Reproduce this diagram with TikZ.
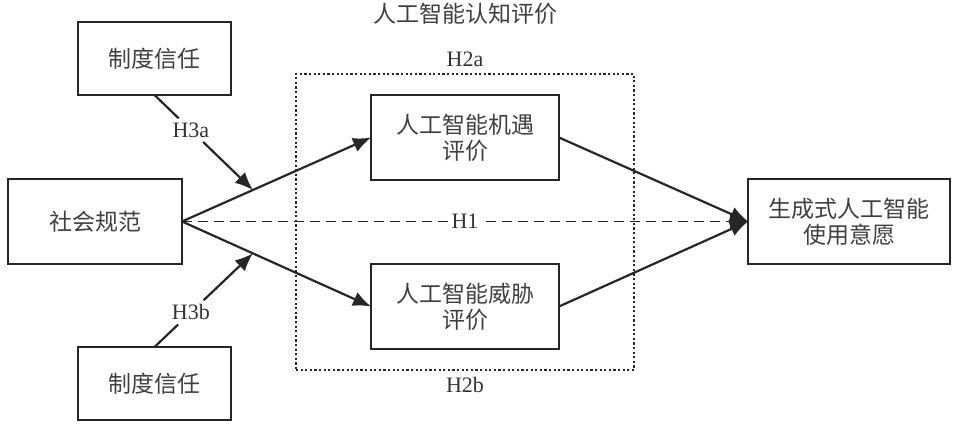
\documentclass[tikz,border=0pt]{standalone}
\usepackage{fontspec}
\setmainfont{Liberation Serif}
\newfontfamily\cjk{Noto Sans CJK SC}
\usetikzlibrary{arrows.meta,fit,positioning}

\begin{document}
\begin{tikzpicture}[node distance=1 and 1,draw=black!85,
  box/.style={draw,line width=1.1pt,outer sep=0pt,inner sep=0pt,minimum height=42.5pt,align=center,font=\fontsize{11.5}{13}\selectfont\cjk,text=black!75},
  ar/.style={-{Latex[length=9pt,width=7.5pt]},line width=1.1pt},
  hyp/.style={font=\fontsize{11}{13}\selectfont,text=black!80,inner sep=2pt}]
  \useasboundingbox (0,0) rectangle (478.5pt,214pt);
  \node [box,minimum width=87pt] (soc) at (47.5pt,103.25pt) {社会规范};
  \node [box,minimum width=94pt,right=94.5pt of soc,yshift=42pt] (opp) {人工智能机遇\\评价};
  \node [box,minimum width=94pt,right=94.5pt of soc,yshift=-42.5pt] (thr) {人工智能威胁\\评价};
  \node [box,minimum width=101pt,right=94.5pt of opp,yshift=-42pt] (use) {生成式人工智能\\使用意愿};
  \node [box,minimum width=76.5pt,minimum height=36.5pt,above=42pt of soc,xshift=29.75pt] (trustA) {制度信任};
  \node [box,minimum width=76.5pt,minimum height=36.5pt,below=41.5pt of soc,xshift=29.75pt] (trustB) {制度信任};
  % mediator frame
  \node [draw,line width=1.2pt,dash pattern=on 1.1pt off 1.2pt,inner xsep=37.5pt,inner ysep=10.5pt,fit=(opp)(thr)] (frame) {};
  \node [hyp,above=1pt of frame] (h2a) {H2a};
  \node [hyp,below=1pt of frame] (h2b) {H2b};
  \node [font=\fontsize{11.5}{13}\selectfont\cjk,text=black!75,above=8pt of h2a] (title) {人工智能认知评价};
  % paths
  \draw [ar] (soc.east) -- coordinate[pos=.375] (ma) (opp.west);
  \draw [ar] (soc.east) -- coordinate[pos=.375] (mb) (thr.west);
  \draw [ar] (opp.east) -- (use.west);
  \draw [ar] (thr.east) -- (use.west);
  \draw [ar,line width=.8pt,dash pattern=on 5pt off 3pt] (soc.east) -- node[hyp,fill=white] (h1) {H1} (use.west);
  % moderators
  \path (trustA.south) -- node[hyp,pos=.37] (h3a) {H3a} (ma);
  \path (trustB.north) -- node[hyp,pos=.37] (h3b) {H3b} (mb);
  \draw [line width=1.1pt] (trustA.south) -- (h3a);
  \draw [ar] (h3a) -- (ma);
  \draw [line width=1.1pt] (trustB.north) -- (h3b);
  \draw [ar] (h3b) -- (mb);
\end{tikzpicture}
\end{document}
